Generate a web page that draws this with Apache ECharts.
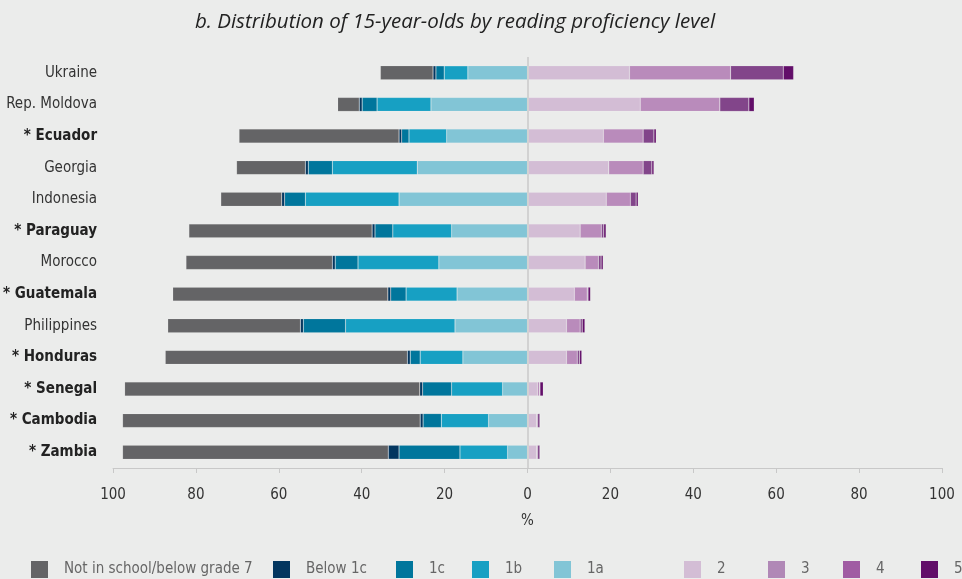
<!DOCTYPE html>
<html>
<head>
<meta charset="utf-8">
<script src="https://cdn.jsdelivr.net/npm/echarts@6/dist/echarts.min.js"></script>
<style>
  html, body { margin: 0; padding: 0; background: #ebeceb; }
  #chart { width: 962px; height: 579px; }
</style>
</head>
<body>
<div id="chart"></div>
<script>
// Countries, top to bottom; "*" marks countries shown in bold
const countries = ['Ukraine', 'Rep. Moldova', '* Ecuador', 'Georgia', 'Indonesia', '* Paraguay',
  'Morocco', '* Guatemala', 'Philippines', '* Honduras', '* Senegal', '* Cambodia', '* Zambia'];

// Share of 15-year-olds (%) below minimum proficiency (drawn to the left of 0)
const notInSchool = [12.7, 5.2, 38.6, 16.6, 14.7, 44.2, 35.3, 51.9, 32.0, 58.4, 71.2, 71.8, 64.1];
const below1c     = [0.7, 0.7, 0.65, 0.7, 0.7, 0.7, 0.7, 0.7, 0.7, 0.7, 0.7, 0.7, 2.6];
const level1c     = [2.0, 3.6, 1.75, 5.8, 5.0, 4.3, 5.5, 3.7, 10.2, 2.4, 7.0, 4.4, 14.7];
const level1b     = [5.7, 13.0, 9.1, 20.5, 22.6, 14.2, 19.5, 12.3, 26.4, 10.3, 12.3, 11.4, 11.5];
const level1a     = [14.4, 23.3, 19.5, 26.6, 31.0, 18.3, 21.4, 17.0, 17.5, 15.6, 6.0, 9.4, 4.8];

// Share (%) at or above minimum proficiency (drawn to the right of 0)
const level2 = [24.6, 27.2, 18.3, 19.6, 19.0, 12.7, 13.9, 11.3, 9.4, 9.4, 2.4, 2.2, 2.2];
const level3 = [24.4, 19.2, 9.6, 8.3, 5.8, 5.1, 3.2, 3.1, 3.3, 2.6, 0.5, 0.2, 0.2];
const level4 = [12.7, 7.0, 2.6, 2.1, 1.4, 0.6, 0.65, 0.2, 0.5, 0.55, 0.1, 0.6, 0.6];
const level5 = [2.5, 1.3, 0.55, 0.5, 0.5, 0.55, 0.5, 0.6, 0.65, 0.55, 0.8, 0.1, 0.1];

const xTicks = [-100, -80, -60, -40, -20, 0, 20, 40, 60, 80, 100];

const FONT = '"Liberation Sans Narrow", "DejaVu Sans Condensed", "Noto Sans", sans-serif';

// [name, values, sign, bar colour, legend swatch colour]
const groups = [
  ['1a', level1a, -1, '#82c5d6', '#82c5d6'],
  ['1b', level1b, -1, '#17a0c3', '#17a0c3'],
  ['1c', level1c, -1, '#00769c', '#00769c'],
  ['Below 1c', below1c, -1, '#03365f', '#03365f'],
  ['Not in school/below grade 7', notInSchool, -1, '#646466', '#646466'],
  ['2', level2, 1, '#d3bdd5', '#d3bdd5'],
  ['3', level3, 1, '#b98bbb', '#b088b6'],
  ['4', level4, 1, '#82458a', '#a05ca3'],
  ['5', level5, 1, '#620e69', '#620e69']
];

const series = groups.map(([name, vals, sign, color], i) => ({
  name: name,
  type: 'bar',
  stack: 'total',
  barWidth: 14,
  data: vals.map(v => sign * v),
  itemStyle: { color: color, borderColor: 'rgba(255,255,255,0.18)', borderWidth: 0.6 },
  emphasis: { disabled: true },
  markLine: i === 0 ? {
    silent: true,
    symbol: 'none',
    label: { show: false },
    lineStyle: { color: '#d2d2d2', width: 2, type: 'solid' },
    data: [{ xAxis: 0 }]
  } : undefined
}));

// Legend entries placed individually along the bottom row
const legendOrder = [
  ['Not in school/below grade 7', 31],
  ['Below 1c', 273],
  ['1c', 396],
  ['1b', 472],
  ['1a', 554],
  ['2', 684],
  ['3', 768],
  ['4', 843],
  ['5', 921]
];
const swatch = Object.fromEntries(groups.map(g => [g[0], g[4]]));
const legends = legendOrder.map(([name, left]) => ({
  left: left - 5,
  top: 556,
  itemWidth: 17,
  itemHeight: 17,
  icon: 'rect',
  selectedMode: false,
  data: [{ name: name, itemStyle: { color: swatch[name], borderWidth: 0 } }],
  textStyle: { color: '#666666', fontSize: 15, fontFamily: FONT, padding: [0, 0, 0, 11] }
}));

const chart = echarts.init(document.getElementById('chart'), null, { renderer: 'canvas' });
chart.setOption({
  backgroundColor: '#ebeceb',
  animation: false,
  title: {
    text: 'b. Distribution of 15-year-olds by reading proficiency level',
    left: 450,
    textAlign: 'center',
    top: 7,
    textStyle: { fontSize: 20.5, fontStyle: 'italic', fontWeight: 'normal', color: '#222222', fontFamily: '"Open Sans", "Noto Sans", sans-serif' }
  },
  legend: legends,
  grid: { left: 110, right: 20, top: 57, height: 411 },
  xAxis: {
    type: 'value',
    min: -100,
    max: 100,
    interval: 20,
    name: '%',
    nameLocation: 'middle',
    nameGap: 46,
    nameTextStyle: { color: '#333333', fontSize: 15, fontFamily: FONT },
    axisLine: { show: true, lineStyle: { color: '#c8c8c8', width: 1 } },
    axisTick: { show: true, length: 5, lineStyle: { color: '#c8c8c8' } },
    splitLine: { show: false },
    axisLabel: {
      color: '#333333', fontSize: 15, fontFamily: FONT, margin: 20,
      customValues: xTicks,
      formatter: v => String(Math.abs(v))
    }
  },
  yAxis: {
    type: 'category',
    data: countries,
    inverse: true,
    axisLine: { show: false },
    axisTick: { show: false },
    axisLabel: {
      margin: 16,
      fontFamily: FONT,
      fontSize: 15,
      color: '#333333',
      formatter: v => v.startsWith('*') ? '{b|' + v + '}' : '{n|' + v + '}',
      rich: {
        b: { fontWeight: 'bold', color: '#222222', fontSize: 15, fontFamily: FONT },
        n: { color: '#333333', fontSize: 15, fontFamily: FONT }
      }
    }
  },
  series: series
});
</script>
</body>
</html>
